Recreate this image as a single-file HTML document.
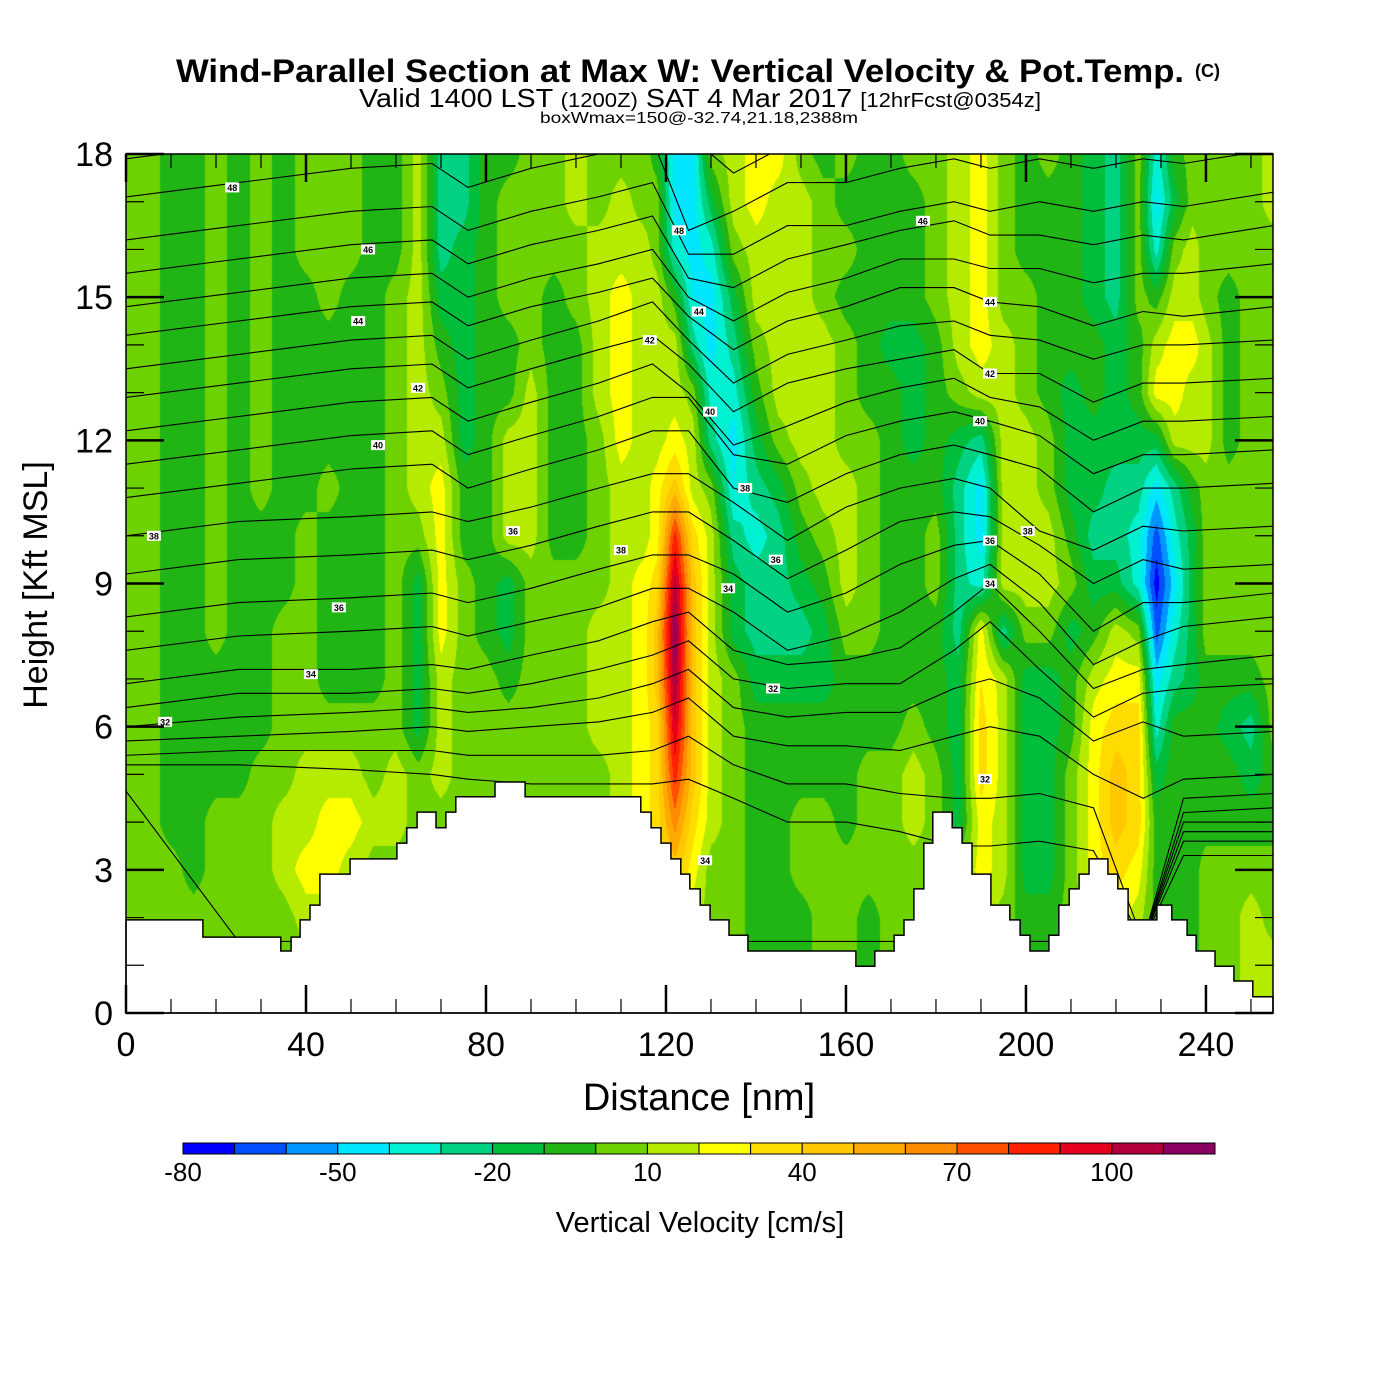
<!DOCTYPE html>
<html><head><meta charset="utf-8">
<style>
html,body{margin:0;padding:0;background:#fff;}
#wrap{position:relative;width:1400px;height:1400px;overflow:hidden;font-family:"Liberation Sans",Arial,sans-serif;}
#field{position:absolute;left:126px;top:154px;}
svg{position:absolute;left:0;top:0;}
</style></head>
<body>
<div id="wrap">
<canvas id="field" width="1147" height="859"></canvas>
<svg id="chart" width="1400" height="1400" xmlns="http://www.w3.org/2000/svg">
<text x="176" y="82" font-size="32" font-weight="bold" textLength="1008" lengthAdjust="spacingAndGlyphs">Wind-Parallel Section at Max W: Vertical Velocity &amp; Pot.Temp.</text>
<text x="1195" y="77" font-size="18" font-weight="bold">(C)</text>
<text x="359" y="107" font-size="26" textLength="682" lengthAdjust="spacingAndGlyphs">Valid 1400 LST <tspan font-size="20">(1200Z)</tspan> SAT 4 Mar 2017 <tspan font-size="20">[12hrFcst@0354z]</tspan></text>
<text x="540" y="123" font-size="16" textLength="318" lengthAdjust="spacingAndGlyphs">boxWmax=150@-32.74,21.18,2388m</text>
<g id="plot"></g>
<text x="699" y="1110" font-size="38" text-anchor="middle">Distance [nm]</text>
<text transform="translate(47,585) rotate(-90)" font-size="34" text-anchor="middle">Height [Kft MSL]</text>
<g id="colorbar"></g>
<text x="700" y="1232" font-size="29" text-anchor="middle">Vertical Velocity [cm/s]</text>
</svg>
</div>
<script>
// ---------- data ----------
const distances = [0,5,10,15,20,25,30,35,40,45,50,55,60,65,70,75,80,85,90,95,100,105,110,115,118,122,126,130,135,140,145,150,155,160,165,170,175,180,185,190,195,200,205,210,215,220,225,229,233,237,240,245,250,255];
const heights = [18,17,16,15,14,13,12,11,10,9,8,7,6,5,4,3,2,1,0];
const wByColumn = [
[5,5,5,5,5,5,5,5,5,5,5,5,5,5,5,5,5,5,5],
[5,5,5,5,5,5,5,5,5,5,5,5,5,5,5,5,5,5,5],
[-5,-5,-5,-5,-5,-5,-5,-5,-5,-5,-5,-5,-5,-5,-5,5,5,5,5],
[-5,-5,-5,-5,-5,-5,-5,-5,-5,-5,-5,-5,-5,-5,-5,-5,5,5,5],
[5,5,5,5,5,5,5,5,5,5,5,-5,-5,-5,5,5,5,5,5],
[-5,-5,-5,-5,-5,-5,-5,-5,-5,-5,-5,-5,-5,-5,5,5,5,5,5],
[5,5,5,5,5,5,5,5,-5,-5,-5,-5,-5,5,5,5,5,5,5],
[-5,-5,-5,-5,-5,-5,-5,-5,-5,-5,5,5,5,5,15,15,5,5,5],
[5,5,5,-5,-5,-5,-5,-5,5,5,5,5,5,15,15,25,15,5,5],
[5,5,5,5,-5,-5,-5,5,-5,-5,-5,-5,5,15,25,25,15,5,5],
[5,5,5,-5,-5,-5,-5,-5,-5,-5,-5,-5,5,15,25,15,5,5,5],
[-5,-5,-5,-5,-5,-5,-5,-5,-5,-5,-5,-5,5,5,15,5,5,5,5],
[-5,-5,-5,5,5,5,5,5,5,5,5,5,5,15,15,5,5,5,5],
[15,15,15,15,15,15,15,15,5,-15,-15,-15,-15,5,5,5,5,5,5],
[-25,-25,-25,-15,-5,5,15,25,25,25,25,15,15,15,5,5,5,5,5],
[-25,-25,-15,-15,-15,-15,-15,-5,-5,5,5,5,5,5,5,5,5,5,5],
[-5,-5,-5,-5,-5,-5,-5,-5,-5,-5,-5,5,5,5,5,5,5,5,5],
[-5,5,5,5,-5,-5,15,15,15,-15,-15,-5,5,5,5,5,5,5,5],
[5,5,5,5,5,15,15,15,15,5,5,5,5,5,5,5,5,5,5],
[5,5,5,-5,-5,-5,-5,-5,-5,5,5,5,5,5,5,5,5,5,5],
[15,15,5,5,-5,-5,-5,-5,-5,5,5,5,5,5,5,5,5,5,5],
[5,5,15,15,15,15,5,5,5,5,15,15,15,5,5,5,5,5,5],
[5,15,15,25,25,25,25,15,15,15,15,15,15,15,15,5,5,5,5],
[5,5,15,15,15,15,15,15,15,25,25,25,25,25,25,15,5,5,5],
[-5,5,5,15,15,15,15,25,25,35,45,45,35,35,35,25,15,5,5],
[-45,-45,-35,-5,15,15,25,45,85,105,115,110,100,85,65,45,25,5,5],
[-45,-45,-45,-40,-25,5,15,15,35,45,45,45,45,45,35,25,15,5,5],
[5,-15,-35,-45,-45,-35,-25,5,15,15,15,15,15,15,15,5,5,5,5],
[15,15,5,-15,-25,-35,-45,-40,-25,-15,-15,5,5,5,5,5,5,5,5],
[25,25,15,15,5,-5,-15,-25,-35,-25,-25,-15,-5,-5,-5,-5,-5,-5,-5],
[25,15,15,15,15,15,5,-15,-25,-25,-25,-15,-5,-5,-5,-5,-5,-5,-5],
[5,15,15,15,15,15,15,5,-5,-15,-25,-15,-5,-5,5,5,-5,-5,-5],
[-5,5,5,5,15,15,15,15,5,-5,-15,-15,-5,-5,5,5,5,5,5],
[5,-5,5,-5,5,5,5,15,15,15,5,-5,-5,-5,-5,5,5,5,5],
[-5,-5,-5,-5,-5,-5,5,5,5,5,5,-5,-5,5,5,5,-5,-5,-5],
[-5,-5,-5,-5,-15,-5,-5,-5,-5,-5,-5,-5,-5,5,5,5,5,5,5],
[5,-5,-5,-5,-15,-15,-15,-5,-5,-5,-5,-5,5,15,15,5,5,5,5],
[5,5,5,5,-5,-5,-5,-5,5,5,-5,-5,-5,5,5,5,5,5,5],
[15,15,15,15,15,5,-15,-25,-25,-25,-25,-15,-15,-15,-15,5,5,5,5],
[25,25,25,25,25,15,-25,-45,-45,-35,25,30,35,35,25,25,15,5,5],
[5,5,5,5,15,15,15,15,15,15,-25,15,15,15,15,15,5,5,5],
[-5,-5,-5,5,5,5,15,15,15,15,5,-15,-15,-15,-15,-15,-5,-5,-5],
[5,-5,-5,-5,-5,-5,5,5,15,15,5,-15,-15,-15,-15,-15,-5,-5,-5],
[-5,-5,-5,-5,-5,-15,-15,-15,-5,5,-15,-5,-5,5,5,5,5,5,5],
[-15,-15,-15,-15,-5,-5,-15,-15,-25,-15,-5,15,25,25,25,25,15,5,5],
[-25,-25,-25,-25,-15,-15,-15,-25,-25,-15,15,25,35,45,45,35,25,5,5],
[5,5,5,5,-5,-5,-15,-25,-35,-35,5,25,35,35,35,25,15,5,5],
[-35,-45,-35,-5,15,25,-15,-45,-65,-75,-65,-45,-35,-15,-5,-5,-5,-5,-5],
[-5,-15,5,15,25,25,15,-25,-35,-45,-35,-25,-5,-5,-5,-5,-5,-5,-5],
[5,5,15,15,25,15,15,-5,-15,-15,-15,-15,-5,-5,-5,-5,-5,-5,-5],
[5,5,5,5,15,15,15,5,5,5,5,-5,-5,-5,-5,5,5,5,5],
[5,5,5,-5,-5,-5,-5,5,5,5,5,-5,-15,-5,-5,5,5,5,5],
[5,5,5,5,5,5,5,5,5,5,5,-5,-25,-15,-5,5,15,15,15],
[15,15,5,5,5,5,5,5,5,5,5,5,5,-5,-5,5,5,15,15]
];
const levelEdges = [-80,-70,-60,-50,-40,-30,-20,-10,0,10,20,30,40,50,60,70,80,90,100,110,120];
const levelColors = ["#0000ff","#0050ff","#0096ff","#00e6ff","#00f0d2","#00d282","#00be3c","#20b414","#6ed200","#b4eb00","#ffff00","#ffdc00","#ffc800","#ffaa00","#ff8c00","#ff5000","#ff2000","#e6001e","#b4003c","#8c0064"];
const colorbarLabels = [-80,-50,-20,10,40,70,100];
const terrainSteps = [[0,1.95],[17.1,1.59],[34.4,1.30],[36.7,1.59],[38.7,1.95],[40.9,2.26],[43.1,2.91],[49.8,3.23],[60.2,3.56],[62.4,3.88],[64.7,4.21],[68.9,3.88],[71.1,4.21],[73.3,4.53],[82.0,4.84],[88.7,4.53],[114.4,4.21],[116.7,3.88],[118.9,3.56],[121.1,3.23],[123.3,2.91],[125.3,2.60],[127.6,2.26],[129.8,1.95],[134.0,1.63],[138.2,1.30],[162.2,0.98],[166.4,1.30],[170.7,1.63],[172.9,1.95],[175.1,2.60],[177.3,3.56],[179.3,4.21],[183.6,3.88],[185.8,3.56],[188.0,2.91],[192.2,2.26],[196.4,1.95],[198.7,1.63],[200.9,1.30],[205.1,1.63],[207.3,2.26],[209.6,2.60],[211.8,2.91],[214.0,3.23],[218.2,2.91],[220.4,2.60],[222.7,1.95],[229.1,2.26],[232.4,1.95],[235.8,1.63],[237.8,1.30],[242.0,0.98],[246.2,0.67],[250.4,0.34]];
const thetaNodes = [0,25,50,68,76,90,105,117,125,135,147,160,172,184,192,203,215,226,235,255];
const thetaLevels = [49,48,47,46,45,44,43,42,41,40,39,38,37,36,35,34,33,32,31,30,29,28,27,26,25];
const thetaHeights = [
[17.9,18.2,18.5,18.6,18.1,18.5,18.8,19.1,18.4,17.6,18.2,18.2,18.5,18.7,18.5,18.7,18.5,18.7,18.6,18.9],
[17.1,17.4,17.7,17.8,17.3,17.7,18.0,18.3,16.4,16.8,17.4,17.4,17.7,17.9,17.7,17.9,17.7,17.9,17.8,18.1],
[16.2,16.5,16.8,16.9,16.4,16.8,17.1,17.4,15.9,15.9,16.5,16.5,16.8,17.0,16.8,17.0,16.8,17.0,16.9,17.2],
[15.5,15.8,16.1,16.2,15.7,16.1,16.4,16.7,15.4,15.2,15.8,16.1,16.4,16.6,16.3,16.3,16.1,16.3,16.2,16.5],
[14.8,15.1,15.4,15.5,15.0,15.4,15.7,16.0,15.0,14.5,15.1,15.4,15.8,15.8,15.6,15.6,15.3,15.5,15.5,15.7],
[14.2,14.5,14.8,14.9,14.4,14.8,15.1,15.4,14.6,13.9,14.5,14.8,15.2,15.2,14.9,14.8,14.4,14.7,14.6,14.8],
[13.5,13.8,14.1,14.2,13.7,14.1,14.5,14.9,14.1,13.2,13.8,14.1,14.4,14.5,14.2,14.1,13.7,14.0,14.0,14.1],
[12.9,13.2,13.5,13.6,13.1,13.5,13.9,14.2,13.6,12.6,13.2,13.5,13.7,13.9,13.4,13.4,12.8,13.2,13.2,13.3],
[12.2,12.5,12.8,12.9,12.4,12.8,13.2,13.6,13.0,11.9,12.3,12.8,13.1,13.3,12.9,12.7,12.0,12.4,12.4,12.5],
[11.5,11.8,12.1,12.2,11.7,12.1,12.5,12.9,12.9,11.7,11.5,12.1,12.4,12.6,12.4,12.1,11.3,11.7,11.7,11.8],
[10.8,11.1,11.4,11.5,11.0,11.4,11.8,12.2,12.2,11.0,10.7,11.3,11.7,11.9,11.7,11.4,10.5,11.0,11.0,11.1],
[10.0,10.3,10.4,10.5,10.3,10.6,11.0,11.3,11.3,10.7,9.9,10.6,11.0,11.2,11.0,10.1,9.7,10.2,10.1,10.2],
[9.2,9.5,9.6,9.7,9.5,9.8,10.2,10.5,10.5,9.9,9.1,9.7,10.3,10.5,10.4,9.8,9.0,9.5,9.3,9.4],
[8.3,8.6,8.7,8.8,8.6,8.9,9.3,9.6,9.6,9.2,8.4,8.8,9.4,9.8,9.9,9.2,8.0,8.6,8.6,8.8],
[7.6,7.9,8.0,8.1,7.9,8.2,8.5,8.9,8.9,8.4,7.6,7.9,8.4,9.1,9.4,8.6,7.3,7.8,8.1,8.3],
[6.9,7.2,7.2,7.3,7.2,7.5,7.8,8.2,8.4,7.6,7.3,7.4,7.65,8.4,9.0,8.0,6.8,7.2,7.3,7.5],
[6.4,6.7,6.7,6.8,6.7,6.9,7.2,7.5,7.8,7.0,6.8,6.9,6.9,7.6,8.2,7.2,6.2,6.7,6.8,6.9],
[6.0,6.2,6.3,6.4,6.3,6.4,6.6,6.9,7.2,6.4,6.2,6.3,6.3,6.8,7.0,6.6,5.7,6.1,5.8,5.9],
[5.7,5.8,5.9,6.0,5.9,6.0,6.1,6.3,6.6,5.8,5.6,5.6,5.5,5.8,6.0,5.8,5.0,4.5,4.9,5.0],
[5.4,5.5,5.5,5.5,5.4,5.4,5.4,5.5,5.8,5.2,4.8,4.8,4.6,4.5,4.5,4.6,4.3,1.5,4.5,4.6],
[5.2,5.2,5.1,5.0,4.9,4.8,4.8,4.8,4.9,4.5,4.0,4.0,3.8,3.5,3.5,3.6,3.4,1.5,4.2,4.3],
[4.65,1.5,1.5,1.5,1.5,1.5,1.5,1.5,1.5,1.5,1.5,1.5,1.5,1.5,1.5,1.5,1.5,1.5,4.0,4.0],
[0,0,0,0,0,0,0,0,0,0,0,0,0,0,0,0,0,1.5,3.8,3.8],
[0,0,0,0,0,0,0,0,0,0,0,0,0,0,0,0,0,1.5,3.6,3.6],
[0,0,0,0,0,0,0,0,0,0,0,0,0,0,0,0,0,1.5,3.3,3.3]
];
const thetaLabelText = ["48","46","44","42","40","38","36","38","36","34","32","48","44","42","40","38","36","34","32","34","46","44","42","40","38","36","34","32"];
const thetaLabelDist = [23.6,53.8,51.6,64.9,56.0,6.2,86.0,110.0,47.3,41.1,8.7,122.9,127.3,116.4,129.8,137.6,144.4,133.8,143.8,128.7,177.1,192.0,192.0,189.8,200.4,192.0,192.0,190.9];
const thetaLabelHeight = [17.3,16.0,14.5,13.1,11.9,10.0,10.1,9.7,8.5,7.1,6.1,16.4,14.7,14.1,12.6,11.0,9.5,8.9,6.8,3.2,16.6,14.9,13.4,12.4,10.1,9.9,9.0,4.9];
const xTickLabels = [0,40,80,120,160,200,240];
const yTickLabels = [0,3,6,9,12,15,18];

// ---------- axes ----------
const PL=126, PT=154, PW=1147, PH=859, XMAX=254.9, YMAX=18;
function xs(nm){ return PL + nm/XMAX*PW; }
function ys(k){ return PT + PH - k/YMAX*PH; }
const NS="http://www.w3.org/2000/svg";
function mk(tag, attrs, parent){ const e=document.createElementNS(NS,tag); for(const k in attrs) e.setAttribute(k,attrs[k]); parent.appendChild(e); return e; }

// ---------- field ----------
(function(){
  const cv=document.getElementById('field'), ctx=cv.getContext('2d');
  const img=ctx.createImageData(PW,PH);
  const rgb=levelColors.map(c=>[parseInt(c.substr(1,2),16),parseInt(c.substr(3,2),16),parseInt(c.substr(5,2),16)]);
  const colI=[], colT=[];
  for(let px=0;px<PW;px++){
    const nm=(px+0.5)/PW*XMAX; let i=0;
    while(i<distances.length-2 && nm>distances[i+1]) i++;
    colI.push(i); colT.push(Math.min(1,Math.max(0,(nm-distances[i])/(distances[i+1]-distances[i]))));
  }
  for(let py=0;py<PH;py++){
    const k=YMAX-(py+0.5)/PH*YMAX; let r=Math.floor(18-k); if(r>17) r=17; if(r<0) r=0;
    const u=(heights[r]-k)/(heights[r]-heights[r+1]);
    for(let px=0;px<PW;px++){
      const i=colI[px], t=colT[px];
      const a=wByColumn[i][r]*(1-t)+wByColumn[i+1][r]*t;
      const b=wByColumn[i][r+1]*(1-t)+wByColumn[i+1][r+1]*t;
      const v=a*(1-u)+b*u;
      let idx=0; while(idx<levelColors.length-1 && v>=levelEdges[idx+1]) idx++;
      const o=(py*PW+px)*4, c=rgb[idx];
      img.data[o]=c[0]; img.data[o+1]=c[1]; img.data[o+2]=c[2]; img.data[o+3]=255;
    }
  }
  ctx.putImageData(img,0,0);
})();

// ---------- overlay ----------
const plot=document.getElementById('plot');
const defs=mk('defs',{},plot);
const cp=mk('clipPath',{id:'pclip'},defs);
mk('rect',{x:PL,y:PT,width:PW,height:PH},cp);

const iso=mk('g',{'clip-path':'url(#pclip)',fill:'none',stroke:'#000','stroke-width':'1.1'},plot);


thetaLevels.forEach((lv,j)=>{
  const pts=thetaNodes.map((d,n)=>xs(d).toFixed(1)+','+ys(thetaHeights[j][n]).toFixed(1)).join(' ');
  const pl=mk('polyline',{points:pts},iso);
  
  
});

let tp=[[xs(0),ys(0)]];
terrainSteps.forEach((s,k)=>{
  const x0=xs(s[0]), x1=xs(k+1<terrainSteps.length?terrainSteps[k+1][0]:XMAX);
  tp.push([x0,ys(s[1])]); tp.push([x1,ys(s[1])]);
});
tp.push([xs(XMAX),ys(0)]);
const terr=mk('polygon',{points:tp.map(p=>p[0].toFixed(1)+','+p[1].toFixed(1)).join(' '),fill:'#fff',stroke:'#000','stroke-width':'1.5'},plot);



const lg=mk('g',{},plot);


thetaLabelText.forEach((t,k)=>{
  const x=xs(thetaLabelDist[k]), y=ys(thetaLabelHeight[k]);
  const r=mk('rect',{x:x-7,y:y-5,width:14,height:10,fill:'#fff'},lg);
  
  
  const tx=mk('text',{x:x,y:y+3.5,'font-size':'9','font-weight':'bold','text-anchor':'middle'},lg);
  
  
  tx.textContent=t;
});

const fr=mk('rect',{x:PL,y:PT,width:PW,height:PH,fill:'none',stroke:'#000','stroke-width':'1.5'},plot);



const tg=mk('g',{stroke:'#000'},plot);


for(let d=0; d<=250; d+=10){
  const major=(d%40===0), L=major?28:14, x=xs(d), w=major?2.5:1.2;
  mk('line',{x1:x,y1:PT+PH,x2:x,y2:PT+PH-L,'stroke-width':w},tg);
  mk('line',{x1:x,y1:PT,x2:x,y2:PT+L,'stroke-width':w},tg);
}
for(let k=0;k<=18;k++){
  const major=(k%3===0), L=major?38:18, y=ys(k), w=major?2.5:1.2;
  mk('line',{x1:PL,y1:y,x2:PL+L,y2:y,'stroke-width':w},tg);
  mk('line',{x1:PL+PW,y1:y,x2:PL+PW-L,y2:y,'stroke-width':w},tg);
}
xTickLabels.forEach(v=>{
  const t=mk('text',{x:xs(v),y:1056,'font-size':'34','text-anchor':'middle'},plot);
  
  
  t.textContent=v;
});
yTickLabels.forEach(v=>{
  const t=mk('text',{x:113,y:ys(v)+12,'font-size':'34','text-anchor':'end'},plot);
  
  
  t.textContent=v;
});

const cb=document.getElementById('colorbar');
const CBX=183, CBW=1032, CBY=1143, CBH=11;
function cbx(v){ return CBX + (v-levelEdges[0])/(levelEdges[levelEdges.length-1]-levelEdges[0])*CBW; }
levelColors.forEach((c,k)=>{
  const r=mk('rect',{x:cbx(levelEdges[k]),y:CBY,width:cbx(levelEdges[k+1])-cbx(levelEdges[k]),height:CBH,fill:c,stroke:'#000','stroke-width':'1'},cb);
  
  
});
colorbarLabels.forEach(v=>{
  const t=mk('text',{x:cbx(v),y:1181,'font-size':'26','text-anchor':'middle'},cb);
  
  
  t.textContent=v;
});
</script>
</body></html>
